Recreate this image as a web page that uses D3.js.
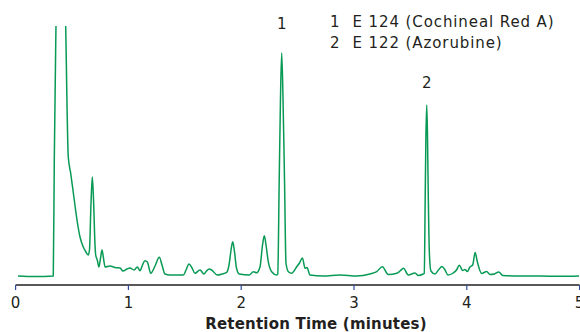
<!DOCTYPE html>
<html>
<head>
<meta charset="utf-8">
<script src="https://cdn.jsdelivr.net/npm/d3@7"></script>
<style>
  html, body { margin: 0; padding: 0; background: #fff; }
  svg text { font-family: "DejaVu Sans", Verdana, sans-serif; fill: #231f20; }
</style>
</head>
<body>
<svg id="chart" width="580" height="332"></svg>
<script>
// retention time (min) and detector signal (arbitrary units)
const times = [
  0.021, 0.172, 0.334, 0.343, 0.358, 0.402, 0.444, 0.467, 0.488, 0.512,
  0.547, 0.571, 0.600, 0.624, 0.644, 0.655, 0.668, 0.680, 0.691, 0.704,
  0.710, 0.724, 0.739, 0.753, 0.766, 0.779, 0.793, 0.837, 0.881, 0.926,
  0.952, 0.988, 1.014, 1.050, 1.079, 1.103, 1.125, 1.147, 1.168, 1.198,
  1.236, 1.274, 1.298, 1.324, 1.369, 1.487, 1.511, 1.537, 1.564, 1.590,
  1.635, 1.670, 1.692, 1.717, 1.738, 1.788, 1.830, 1.871, 1.892, 1.910,
  1.925, 1.941, 1.958, 1.983, 2.072, 2.107, 2.137, 2.167, 2.189, 2.205,
  2.220, 2.240, 2.270, 2.315, 2.324, 2.337, 2.348, 2.359, 2.371, 2.384,
  2.397, 2.418, 2.448, 2.468, 2.492, 2.517, 2.543, 2.566, 2.583, 2.610,
  2.728, 2.876, 3.024, 3.142, 3.201, 3.251, 3.304, 3.379, 3.408, 3.439,
  3.481, 3.541, 3.570, 3.614, 3.623, 3.631, 3.637, 3.645, 3.652, 3.659,
  3.669, 3.682, 3.718, 3.749, 3.780, 3.807, 3.833, 3.880, 3.909, 3.933,
  3.964, 3.984, 4.004, 4.028, 4.052, 4.074, 4.090, 4.102, 4.132, 4.176,
  4.206, 4.241, 4.283, 4.319, 4.472, 4.649, 4.826, 4.995
];
const signal = [
  0, -0.5, 0, 116, 250, 476, 250, 119, 103, 83,
  54, 39, 29, 24, 21, 26, 71, 99, 76, 31,
  21, 16, 9, 18, 26, 18, 9, 10, 8.5, 8,
  5, 7, 8, 6, 9, 5.3, 11, 15.3, 14, 2.7,
  10, 18.7, 11, 2, 1, 1, 6, 12, 8, 2.7,
  6, 2, 5, 7, 6, 1, 2, 3.7, 11, 26,
  34.3, 24, 8, 2, 1, 4.3, 3.3, 9.3, 31, 40.3,
  31, 14.3, 4.3, 1, 2, 96, 176, 223, 176, 96,
  13, 4.3, 2.7, 5, 9.3, 13, 18, 7.7, 8.5, 1,
  0, 1, 0, 2, 4.3, 9.3, 1.5, 2.7, 5, 7.7,
  1, 3, 0.5, 2, 2.5, 76, 136, 171, 136, 76,
  21, 5, 2, 6, 9.5, 6, 1, 3, 6, 10.7,
  5.5, 6.5, 4.5, 9, 11, 23.5, 16, 10.5, 2.5, 4.5,
  1.5, 2, 4, 0.5, 0, 0, -0.3, 0
];
const xTicks = [0, 1, 2, 3, 4, 5];
const peakNums = ["1", "2"];
const peakTimes = [2.359, 3.645];
const peakNames = ["E 124 (Cochineal Red A)", "E 122 (Azorubine)"];

const svg = d3.select("#chart");
const plotTop = 26, baseY = 276, axisY = 285;

const x = d3.scaleLinear().domain([0, 5]).range([15.6, 579.6]);
const y = d3.scaleLinear().domain([0, 250]).range([baseY, plotTop]);

const pts = times.map((t, i) => [t, signal[i]]);

svg.append("clipPath").attr("id", "plot-clip")
  .append("rect").attr("x", 0).attr("y", plotTop).attr("width", 580).attr("height", axisY - plotTop);

const line = d3.line().x(d => x(d[0])).y(d => y(d[1])).curve(d3.curveMonotoneX);

svg.append("path")
  .datum(pts)
  .attr("clip-path", "url(#plot-clip)")
  .attr("fill", "none")
  .attr("stroke", "#089a55")
  .attr("stroke-width", 1.5)
  .attr("stroke-linejoin", "round")
  .attr("d", line);

// x axis: black line, blue ticks hanging below
const ax = svg.append("g").attr("transform", `translate(0,${axisY})`);
ax.append("line").attr("x1", x(0)).attr("x2", x(5)).attr("stroke", "#231f20").attr("stroke-width", 1.3);
ax.selectAll(".tick").data(xTicks).enter().append("line")
  .attr("x1", d => x(d)).attr("x2", d => x(d))
  .attr("y1", 0).attr("y2", 5)
  .attr("stroke", "#2e4a9e").attr("stroke-width", 1.2);
ax.selectAll(".lbl").data(xTicks).enter().append("text")
  .attr("x", d => x(d)).attr("y", 23)
  .attr("text-anchor", "middle")
  .style("font-size", "15px")
  .text(d => d);

svg.append("text")
  .attr("x", 316).attr("y", 329)
  .attr("text-anchor", "middle")
  .style("font-size", "15px").style("font-weight", "bold")
  .style("letter-spacing", "0.2px")
  .text("Retention Time (minutes)");

// peak numbers above the apexes
const labelGap = [24, 17];
peakNums.forEach((n, i) => {
  const t = peakTimes[i];
  const idx = times.indexOf(t);
  svg.append("text")
    .attr("x", x(t)).attr("y", y(signal[idx]) - labelGap[i])
    .attr("text-anchor", "middle")
    .style("font-size", "15px")
    .text(n);
});

// legend
const lg = svg.append("g").attr("transform", "translate(330,27)");
peakNums.forEach((n, i) => {
  lg.append("text").attr("x", 0).attr("y", i * 20.5).style("font-size", "15px").text(n);
  lg.append("text").attr("x", 22.5).attr("y", i * 20.5)
    .style("font-size", "15px").style("letter-spacing", "0.9px")
    .text(peakNames[i]);
});
</script>
</body>
</html>
